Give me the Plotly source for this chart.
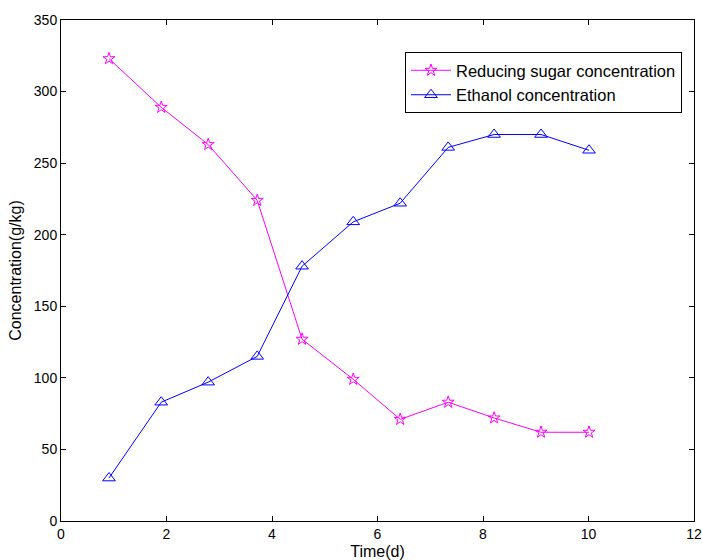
import plotly.graph_objects as go

time_d = [0.91, 1.90, 2.79, 3.72, 4.57, 5.54, 6.43, 7.34, 8.21, 9.10, 10.01]
sugar = [323, 289, 263, 224, 127, 99, 71, 83, 72, 62, 62]
ethanol = [30, 83, 97, 115, 178, 209, 222, 261, 270, 270, 259]

fig = go.Figure()
fig.add_trace(go.Scatter(
    x=time_d, y=sugar, mode="lines+markers", name="Reducing sugar concentration",
    line=dict(color="#ff00ff", width=1),
    marker=dict(symbol="star-open", size=9, color="#ff00ff", line=dict(width=1, color="#ff00ff")),
))
fig.add_trace(go.Scatter(
    x=time_d, y=ethanol, mode="lines+markers", name="Ethanol concentration",
    line=dict(color="#0000ff", width=1),
    marker=dict(symbol="triangle-up-open", size=11, color="#0000ff", line=dict(width=1, color="#0000ff")),
))

axis_common = dict(
    showline=True, linecolor="black", linewidth=1, mirror="ticks",
    ticks="inside", ticklen=5, tickcolor="black", showgrid=False, zeroline=False,
    automargin=False,
    tickfont=dict(family="Liberation Sans, Arial", size=14, color="black"),
)
fig.update_xaxes(range=[0, 12], dtick=2, tick0=0,
                 title=dict(text="Time(d)", font=dict(family="Liberation Sans, Arial", size=16, color="black"), standoff=6),
                 **axis_common)
fig.update_yaxes(range=[0, 350], dtick=50, tick0=0,
                 title=dict(text="Concentration(g/kg)", font=dict(family="Liberation Sans, Arial", size=16, color="black"), standoff=8),
                 **axis_common)

fig.update_layout(
    width=702, height=560,
    margin=dict(l=61, r=8, t=20, b=39),
    plot_bgcolor="white", paper_bgcolor="white",
    legend=dict(x=0.981, y=0.936, xanchor="right", yanchor="top",
                bordercolor="black", borderwidth=1, bgcolor="white",
                font=dict(family="Liberation Sans, Arial", size=16.5, color="black"),
                tracegroupgap=0, itemwidth=40),
    showlegend=True,
)

fig.write_html("out.html")
